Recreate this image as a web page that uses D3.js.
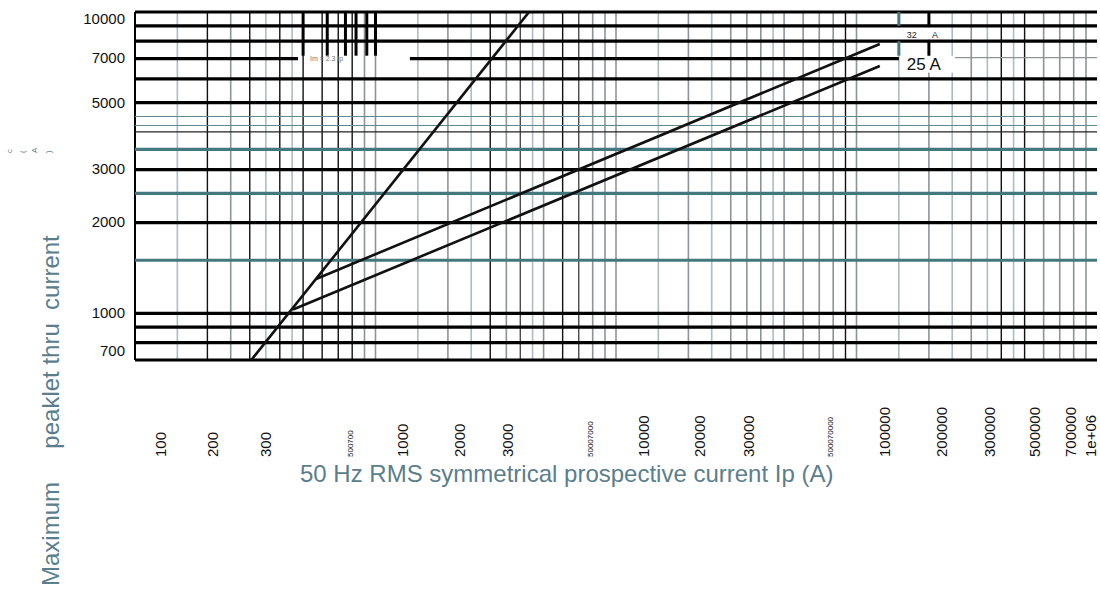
<!DOCTYPE html>
<html>
<head>
<meta charset="utf-8">
<script src="https://cdn.jsdelivr.net/npm/d3@7/dist/d3.min.js"></script>
<style>
html,body{margin:0;padding:0;background:#fff;}
svg{display:block;}
text{font-family:"Liberation Sans",Arial,Helvetica,sans-serif;}
</style>
</head>
<body>
<svg id="chart" width="1100" height="590"></svg>
<script>
// ---------------- data ----------------
const peakIp   = [300, 4350];      // Im = 2.3 Ip line (A)
const peakIc   = [690, 10000];
const fuse32Ip = [566, 125000];    // 32 A fuse
const fuse32Ic = [1300, 7830];
const fuse25Ip = [454, 125000];    // 25 A fuse
const fuse25Ic = [1030, 6620];

const xTickValues = [100,200,300,600,1000,2000,3000,6000,10000,20000,30000,60000,100000,200000,300000,500000,700000,1000000];
const xTickLabels = ["100","200","300","500700","1000","2000","3000","50007000","10000","20000","30000","500070000","100000","200000","300000","500000","700000","1e+06"];
const yTickValues = [10000,7000,5000,3000,2000,1000,700];
const yTickLabels = ["10000","7000","5000","3000","2000","1000","700"];

const xGridValues = [150,200,250,300,350,400,450,500,600,700,800,900,1000,
  1500,2000,2500,3000,3500,4000,4500,5000,6000,7000,8000,9000,10000,
  15000,20000,25000,30000,35000,40000,45000,50000,60000,70000,80000,90000,100000,
  150000,200000,250000,300000,350000,400000,450000,500000,600000,700000,800000,900000];
const yGridValues = [10000,9000,8000,7000,6000,5000,4500,4200,4000,3500,3000,2500,2000,1500,1000,900,800,700];
const imMarkValues = [500,630,750,830,920,1000];
const imGap = [476, 1390];         // Ip range of "Im = 2.3 Ip" label
const a25Gap = [150000, 257000];   // Ip range of "25 A" label
const a32Box = [104000, 245000];   // Ip range of "32 A" label
const ratingMarks = [150000, 200000];

// ---------------- styles ----------------
const xGridStyle = ("bkgkbkbkkkkgg" + "bgbkgdbgkdggg" + "bgbgggbggggkg" + "bgbgbkbkgggg").split("");
const yGridStyle = ["K","K","K","K","K","K","t","t","h","T","K","T","K","T","K","K","K","K"];
const vStyle = {k:{c:"#111",w:1.4}, g:{c:"#8e9496",w:1.6}, b:{c:"#aabdc2",w:1.6}, d:{c:"#4a4a4a",w:1.4}};
const hStyle = {K:{c:"#000",w:3.2}, T:{c:"#43787f",w:3.2}, t:{c:"#5f8c94",w:1.2}, h:{c:"#222",w:1.2}};
const TEAL_TEXT = "#5b7e8c";

// ---------------- layout ----------------
const svg = d3.select("#chart");
const P = {left:135, right:1097, top:12, bottom:360};
const x = d3.scaleLog().domain([100, 1e6]).range([P.left, P.right]);
const y = d3.scaleLog().domain([700, 10000]).range([P.bottom, P.top]);
const xLabel = d3.scaleLog().domain(xTickValues)
  .range([160,212,265,350,402,459,507,590,643,699,748,830,884,941,989,1034,1070,1090]);

svg.append("defs").append("clipPath").attr("id","clip")
  .append("rect").attr("x",P.left).attr("y",P.top).attr("width",P.right-P.left).attr("height",P.bottom-P.top);

// vertical grid
svg.append("g").selectAll("line").data(xGridValues).join("line")
  .attr("x1",d=>x(d)).attr("x2",d=>x(d)).attr("y1",P.top).attr("y2",P.bottom)
  .attr("stroke",(d,i)=>vStyle[xGridStyle[i]].c).attr("stroke-width",(d,i)=>vStyle[xGridStyle[i]].w);
// left frame
svg.append("line").attr("x1",P.left).attr("x2",P.left).attr("y1",P.top).attr("y2",P.bottom).attr("stroke","#000").attr("stroke-width",2);

// white label boxes
const y7 = y(7000);
svg.append("rect").attr("x",x(a25Gap[0])+1).attr("y",y7-3).attr("width",x(a25Gap[1])-x(a25Gap[0])-2).attr("height",17).attr("fill","#fff");
svg.append("rect").attr("x",x(a32Box[0])).attr("y",y(9000)+1.6).attr("width",x(a32Box[1])-x(a32Box[0])).attr("height",y(8000)-y(9000)-3.2).attr("fill","#fff");

// horizontal grid
const hg = svg.append("g");
yGridValues.forEach((v,i)=>{
  const s = hStyle[yGridStyle[i]];
  let segs = [[1e2,1e6]];
  if (v===7000) segs = [[1e2,imGap[0]],[imGap[1],a25Gap[0]]];
  segs.forEach(sg=>{
    hg.append("line").attr("x1",x(sg[0])).attr("x2",x(sg[1])).attr("y1",y(v)).attr("y2",y(v))
      .attr("stroke",s.c).attr("stroke-width",s.w);
  });
  if (v===7000) hg.append("line").attr("x1",x(a25Gap[1])).attr("x2",x(1e6)).attr("y1",y(v)-1).attr("y2",y(v)-1)
      .attr("stroke","#8e9496").attr("stroke-width",1.2);
});

// thick marks above the Im label
svg.append("g").selectAll("line").data(imMarkValues).join("line")
  .attr("x1",d=>x(d)).attr("x2",d=>x(d)).attr("y1",P.top).attr("y2",y7-3)
  .attr("stroke","#000").attr("stroke-width",3);
// rating marks (32 A)
ratingMarks.forEach((v,i)=>{
  const col = i===0 ? "#43787f" : "#000";
  [[10000,9000],[8000,7000]].forEach(r=>{
    svg.append("line").attr("x1",x(v)).attr("x2",x(v)).attr("y1",y(r[0])).attr("y2",y(r[1])-(r[1]===7000?3:0))
      .attr("stroke",col).attr("stroke-width",3);
  });
});

// curves
const line = d3.line().x(d=>x(d[0])).y(d=>y(d[1]));
const cg = svg.append("g").attr("clip-path","url(#clip)");
[[peakIp,peakIc],[fuse32Ip,fuse32Ic],[fuse25Ip,fuse25Ic]].forEach(([ip,ic])=>{
  cg.append("path").datum(ip.map((v,i)=>[v,ic[i]])).attr("d",line)
    .attr("fill","none").attr("stroke","#111").attr("stroke-width",2.6);
});

// annotations
svg.append("text").attr("x",x(imGap[0])+12).attr("y",y7+2.5).attr("font-size",7).attr("fill","#777").text("Im = 2.3 Ip");
svg.append("text").attr("x",x(ratingMarks[0])+8).attr("y",y(8000)-3.5).attr("font-size",9).attr("fill","#222").text("32");
svg.append("text").attr("x",x(ratingMarks[1])+3).attr("y",y(8000)-3.5).attr("font-size",9).attr("fill","#222").text("A");
svg.append("text").attr("x",x(ratingMarks[0])+8).attr("y",y7+11).attr("font-size",17).attr("fill","#111").text("25 A");

// x tick labels
const ax = svg.append("g").attr("transform","translate(0,457)")
  .call(d3.axisBottom(xLabel).tickValues(xTickValues).tickFormat((d,i)=>xTickLabels[i]).tickSize(0).tickPadding(0));
ax.select(".domain").remove();
ax.selectAll("text")
  .attr("x",0).attr("y",0).attr("dy","0.35em")
  .attr("transform","rotate(-90)").attr("text-anchor","start")
  .attr("font-family","Liberation Sans, Arial, sans-serif")
  .attr("fill","#111")
  .attr("font-size",(d,i)=> (+xTickLabels[i]===d) ? 15 : 8);

// y tick labels
const ay = svg.append("g").attr("transform","translate(125,0)")
  .call(d3.axisLeft(y).tickValues(yTickValues).tickFormat((d,i)=>yTickLabels[i]).tickSize(0).tickPadding(0));
ay.select(".domain").remove();
ay.selectAll(".tick").attr("transform",d=>`translate(0,${Math.max(P.top+7, Math.min(P.bottom-9, y(d)))})`);
ay.selectAll("text").attr("x",0).attr("font-family","Liberation Sans, Arial, sans-serif").attr("font-size",15).attr("fill","#111");

// axis titles
svg.append("text").attr("x",300).attr("y",482).attr("font-size",24).attr("fill",TEAL_TEXT)
  .text("50 Hz RMS symmetrical prospective current Ip (A)");
svg.append("text").attr("transform","translate(59,586) rotate(-90)").attr("font-size",24).attr("fill",TEAL_TEXT)
  .attr("xml:space","preserve").style("white-space","pre")
  .text("Maximum     peaklet thru  current");
svg.append("text").attr("x",12).attr("y",153).attr("font-size",8).attr("fill",TEAL_TEXT)
  .attr("letter-spacing",9).attr("rotate","-90").text("c(A)");
</script>
</body>
</html>
